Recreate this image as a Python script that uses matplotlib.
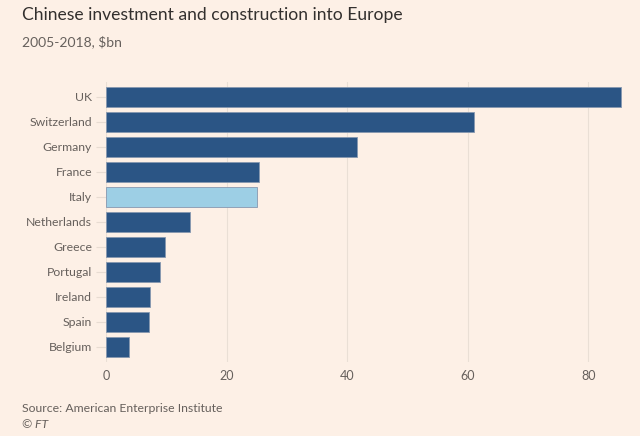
import matplotlib

matplotlib.use("Agg")
import matplotlib.pyplot as plt
import numpy as np

countries = ["UK", "Switzerland", "Germany", "France", "Italy", "Netherlands",
             "Greece", "Portugal", "Ireland", "Spain", "Belgium"]
values = [85.5, 61.0, 41.7, 25.4, 25.0, 14.0, 9.8, 9.0, 7.3, 7.1, 3.9]
highlight = "Italy"
xticks = [0, 20, 40, 60, 80]

BG = "#fdf0e6"
DARK = "#2b5585"
LIGHT = "#9dcfe5"
GREY = "#66605c"

plt.rcParams["font.family"] = ["Lato", "DejaVu Sans"]

fig = plt.figure(figsize=(6.4, 4.36), dpi=100, facecolor=BG)
ax = fig.add_axes([0.1656, 0.1697, 0.8064, 0.643])
ax.set_facecolor(BG)

y = np.arange(len(countries))
colors = [LIGHT if c == highlight else DARK for c in countries]
ax.barh(y, values, height=0.8, color=colors, edgecolor="#8798b0", linewidth=0.6, zorder=3)

ax.set_xlim(0, 85.6)
ax.set_ylim(len(countries) - 0.4, -0.6)
ax.set_yticks(y)
ax.set_yticklabels(countries)
ax.set_xticks(xticks)
ax.tick_params(axis="y", length=7, width=0.8, color="#e8dcd2", labelsize=8.8, labelcolor=GREY, pad=3)
ax.tick_params(axis="x", length=0, labelsize=9, labelcolor=GREY, pad=6)
ax.grid(axis="x", color="#eadfd5", linewidth=0.8, zorder=0)
for s in ax.spines.values():
    s.set_visible(False)

fig.text(0.034, 0.984, "Chinese investment and construction into Europe",
         fontsize=12.6, color="#33302e", va="top", ha="left")
fig.text(0.034, 0.92, "2005-2018, $bn", fontsize=10, color=GREY, va="top", ha="left")
fig.text(0.034, 0.064, "Source: American Enterprise Institute", fontsize=8.8, color=GREY,
         va="center", ha="left")
fig.text(0.034, 0.027, "© FT", fontsize=8.8, color=GREY, style="italic", va="center", ha="left")

fig.savefig("out.png", dpi=100, facecolor=BG)
